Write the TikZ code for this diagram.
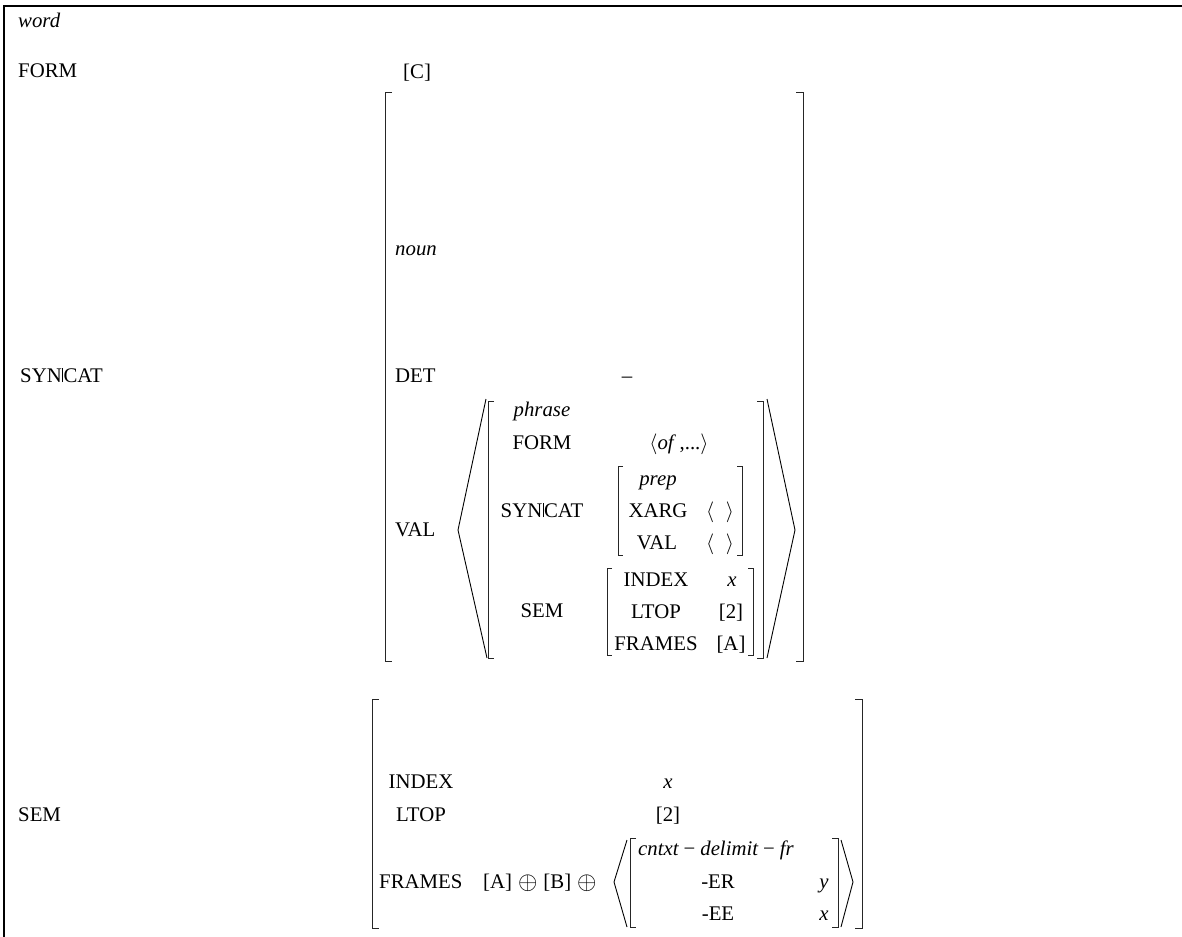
\RequirePackage{fix-cm}
\documentclass[tikz,border=0pt]{standalone}
\usepackage{fontspec}
\usepackage{graphicx}
\setmainfont{Liberation Serif}
\newcommand{\sbar}{\kern0.6bp\rule[0pt]{0.5bp}{0.66em}\kern0.6bp}
\newcommand{\opl}{\raisebox{-1bp}{\scalebox{1.2}{$\oplus$}}}
\newcommand{\lbrk}[5]{\draw[brk] (#1+#5,#2) -- (#1,#2) -- (#1,#3) -- (#1+#5,#3);}
\newcommand{\rbrk}[5]{\draw[brk] (#1-#5,#2) -- (#1,#2) -- (#1,#3) -- (#1-#5,#3);}
\begin{document}
\begin{tikzpicture}[x=1bp,y=-1bp,
  txt/.style={inner sep=0pt, font=\fontsize{20.8bp}{24bp}\selectfont},
  lw/.style={txt, anchor=base west},
  cb/.style={txt, anchor=base},
  brk/.style={line width=0.9bp, draw=black!85},
  ang/.style={line width=0.9bp, draw=black},
  frame/.style={line width=2bp, draw=black}]
\useasboundingbox (0,0) rectangle (1182,937);
% frame (top and left only)
\coordinate (ftr) at (1182,6);
\coordinate (ftl) at (4,6);
\coordinate (fbl) at (4,937);
\draw[frame] (ftr) -- (ftl) -- (fbl);
% top level
\node[lw] (word) at (18,27) {\itshape word};
\node[lw] (form) at (18,77) {FORM};
\node[lw] (formv) at (403,78) {[C]};
\node[lw] (syncat) at (20,382) {SYN\sbar CAT};
\node[lw] (sem) at (18,821) {SEM};
% SYN|CAT value
\lbrk{385}{92}{661}{}{7}
\rbrk{803}{92}{661}{}{7}
\node[lw] (noun) at (395,255) {\itshape noun};
\node[lw] (det) at (395,382) {DET};
\node[cb] (detv) at (627,382) {–};
\node[lw] (val) at (395,536) {VAL};
% VAL list
\draw[ang] (486,399) -- (458,530) -- (487,658);
\draw[ang] (767,399) -- (795,530) -- (767,658);
\lbrk{488}{401}{658}{}{6}
\rbrk{763}{401}{658}{}{6}
\node[cb] (phr) at (542,416) {\itshape phrase};
\node[cb] (iform) at (542,449) {FORM};
\node[cb] (iformv) at (679,449) {$\langle$\textit{of}\,,...$\rangle$};
\node[cb] (isyn) at (542,517) {SYN\sbar CAT};
\lbrk{618}{466}{555}{}{5}
\rbrk{742}{466}{555}{}{5}
\node[cb] (prep) at (658,485) {\itshape prep};
\node[cb] (xarg) at (658,517) {XARG};
\node[cb] (xargv) at (720,517) {$\langle\;\;\rangle$};
\node[cb] (ival) at (657,549) {VAL};
\node[cb] (ivalv) at (720,549) {$\langle\;\;\rangle$};
\node[cb] (isem) at (542,617) {SEM};
\lbrk{607}{568}{655}{}{5}
\rbrk{753}{568}{655}{}{5}
\node[cb] (iidx) at (656,586) {INDEX};
\node[cb] (iidxv) at (732,586) {\itshape x};
\node[cb] (iltop) at (656,618) {LTOP};
\node[cb] (iltopv) at (731,618) {[2]};
\node[cb] (ifr) at (656,650) {FRAMES};
\node[cb] (ifrv) at (731,650) {[A]};
% SEM value
\lbrk{372}{699}{928}{}{7}
\rbrk{862}{699}{928}{}{7}
\node[cb] (idx) at (421,788) {INDEX};
\node[cb] (idxv) at (668,788) {\itshape x};
\node[cb] (ltop) at (421,821) {LTOP};
\node[cb] (ltopv) at (668,821) {[2]};
\node[lw] (fr) at (379,888) {FRAMES};
\node[lw] (frv) at (483,888) {[A]\hspace{6bp}\opl\hspace{6bp}[B]\hspace{6bp}\opl};
\draw[ang] (627,840) -- (614,882) -- (627,927);
\draw[ang] (841,840) -- (853,882) -- (841,927);
\lbrk{630}{838}{927}{}{6}
\rbrk{838}{838}{927}{}{6}
\node[lw] (cdf) at (638,855) {\itshape cntxt\hspace{5bp}{\upshape −}\hspace{5bp}delimit\hspace{5bp}{\upshape −}\hspace{5bp}fr};
\node[cb] (er) at (718,888) {-ER};
\node[cb] (erv) at (824,888) {\itshape y};
\node[cb] (ee) at (718,920) {-EE};
\node[cb] (eev) at (824,920) {\itshape x};
\end{tikzpicture}
\end{document}
